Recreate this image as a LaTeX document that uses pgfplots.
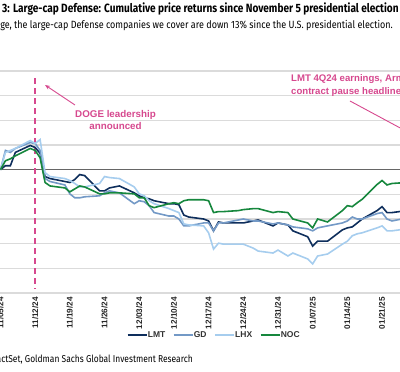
\documentclass[border=0pt]{standalone}
\usepackage{fontspec}
\setmainfont{Liberation Sans}
\newfontfamily\titlef{Fira Sans}[FakeStretch=0.84]
\newfontfamily\subf{Fira Sans}[FakeStretch=0.858]
\newfontfamily\srcf{Fira Sans}[FakeStretch=0.845]
\usepackage{pgfplots}
\usepackage{pgfplotstable}
\pgfplotsset{compat=1.18}
\usetikzlibrary{arrows.meta}
\definecolor{clmt}{RGB}{14,46,92}
\definecolor{cgd}{RGB}{115,153,198}
\definecolor{clhx}{RGB}{166,205,238}
\definecolor{cnoc}{RGB}{22,135,61}
\definecolor{cpink}{RGB}{214,72,142}

\pgfplotstableread{
x y
0 0
1 0.8
2 0.8
3 3.5
6 4.9
7 4.5
8 3.3
9 -1.4
10 -1.8
13 -2.4
14 -2.6
15 -2.0
16 -1.0
17 -1.2
20 -4.3
21 -4.3
22 -3.7
24 -3.3
27 -4.7
28 -5.3
29 -5.7
30 -5.9
31 -6.3
34 -6.9
35 -6.9
36 -7.1
37 -9.2
38 -9.6
41 -10.0
42 -10.4
43 -12.4
44 -10.6
45 -10.8
48 -10.8
49 -10.8
51 -10.4
52 -10.2
55 -11.4
56 -10.8
58 -11.2
59 -12.4
62 -13.6
63 -15.5
64 -14.5
66 -14.5
69 -12.2
70 -11.8
71 -11.6
72 -10.8
73 -10.0
76 -8.3
77 -7.5
78 -8.7
79 -8.7
82 -8.3
}\lmt

\pgfplotstableread{
x y
0 0
1 3.9
2 3.5
3 4.3
6 5.5
7 5.3
8 3.9
9 -1.8
10 -2.4
13 -3.1
14 -4.9
15 -5.7
16 -5.7
17 -5.5
20 -5.3
21 -4.7
22 -4.3
24 -4.7
27 -6.9
28 -6.3
29 -6.5
30 -7.3
31 -8.7
34 -9.4
35 -9.4
36 -10.0
37 -11.4
38 -11.4
41 -10.8
42 -10.8
43 -12.4
44 -10.8
45 -10.8
48 -10.2
49 -10.0
51 -10.4
52 -10.4
55 -11.0
56 -10.8
58 -11.2
59 -11.6
62 -12.0
63 -12.4
64 -11.8
66 -11.4
69 -10.8
70 -10.4
71 -9.6
72 -10.0
73 -10.0
76 -8.9
77 -8.7
78 -10.0
79 -10.4
82 -9.8
}\gd

\pgfplotstableread{
x y
0 0
1 3.5
2 3.9
3 4.3
6 5.9
7 5.3
8 6.1
9 -0.6
10 -1.4
13 -1.8
14 -2.2
15 -2.8
16 -3.5
17 -3.5
20 -2.8
21 -1.4
22 -1.6
24 -1.8
27 -3.5
28 -4.9
29 -5.3
30 -6.3
31 -6.9
34 -7.9
35 -8.3
36 -8.7
37 -11.0
38 -11.2
41 -11.4
42 -12.8
43 -16.1
44 -14.9
45 -15.1
48 -15.1
49 -15.1
51 -15.9
52 -16.5
55 -16.9
56 -16.3
58 -17.5
59 -16.9
62 -18.1
63 -19.1
64 -17.5
66 -17.1
69 -15.1
70 -14.5
71 -13.4
72 -13.0
73 -12.8
76 -11.8
77 -11.4
78 -12.4
79 -12.4
82 -12.0
}\lhx

\pgfplotstableread{
x y
0 0
1 1.8
2 2.2
3 2.8
6 4.3
7 3.9
8 2.4
9 -2.6
10 -3.3
13 -3.7
14 -4.5
15 -3.9
16 -3.3
17 -3.5
20 -4.9
21 -4.9
22 -4.7
24 -4.7
27 -4.9
28 -5.7
29 -5.7
30 -7.3
31 -7.7
34 -6.9
35 -6.7
36 -6.9
37 -6.3
38 -6.1
41 -6.1
42 -6.3
43 -8.7
44 -8.5
45 -8.5
48 -8.3
49 -8.1
51 -7.9
52 -7.9
55 -8.7
56 -8.5
58 -8.7
59 -10.0
62 -10.8
63 -11.8
64 -10.0
66 -10.6
69 -8.3
70 -7.3
71 -7.5
72 -6.7
73 -6.0
76 -3.0
77 -2.2
78 -3.1
79 -2.8
82 -2.6
}\noc

\begin{document}
\begin{tikzpicture}
\path[use as bounding box] (0pt,0pt) rectangle (400pt,372pt);
\clip (0pt,0pt) rectangle (400pt,372pt);
\begin{axis}[
  at={(-14.4pt,79pt)}, anchor=south west,
  scale only axis, width=436.1pt, height=222pt,
  xmin=-3, xmax=85, ymin=-25, ymax=20,
  axis line style={draw=none},
  ytick={-25,-20,...,20}, yticklabels={},
  ymajorgrids, grid style={line width=1.2pt, color=black!14},
  extra y ticks={0}, extra y tick labels={},
  extra y tick style={grid style={line width=1pt, color=black!60}},
  xtick={0,7,...,84},
  xticklabels={11/05/24,11/12/24,11/19/24,11/26/24,12/03/24,12/10/24,12/17/24,12/24/24,12/31/24,01/07/25,01/14/25,01/21/25,01/28/25},
  x tick label style={rotate=90, anchor=east, inner sep=0pt, font=\fontsize{8.2}{9}\selectfont\bfseries, text=black!85},
  xticklabel shift=4pt,
  major tick length=0pt,
  legend columns=4,
  legend style={draw=none, fill=none, at={(0.5225,-0.189)}, anchor=center,
    inner sep=0pt, column sep=0pt,
    font=\fontsize{8.5}{10}\selectfont\bfseries, text=black!80,
    nodes={inner xsep=0.5pt, inner ysep=1pt},
    /tikz/every even column/.append style={column sep=7pt}},
  legend image code/.code={\draw[#1] (0pt,0pt) -- (19pt,0pt);},
]
\addplot[cpink, line width=1.6pt, dash pattern=on 6pt off 4pt, forget plot] coordinates {(7,18.5) (7,-24.2)};
\addplot[clmt, line width=1.6pt] table {\lmt};
\addplot[cgd, line width=1.6pt] table {\gd};
\addplot[clhx, line width=1.6pt] table {\lhx};
\addplot[cnoc, line width=1.6pt] table {\noc};
\legend{LMT,GD,LHX,NOC}
\end{axis}
\node[anchor=west, inner sep=0pt] at (2pt,363pt) {\titlef\fontsize{12}{14}\selectfont\bfseries 3: Large-cap Defense: Cumulative price returns since November 5 presidential election};
\node[anchor=east, inner sep=0pt] at (393pt,346pt) {\subf\fontsize{10.5}{12}\selectfont On average, the large-cap Defense companies we cover are down 13\% since the U.S. presidential election.};
\node[text=cpink, align=center, inner sep=0pt, font=\fontsize{9.8}{12}\selectfont\bfseries] at (115.5pt,252pt) {DOGE leadership\\announced};
\node[text=cpink, align=left, anchor=west, inner sep=0pt, font=\fontsize{9.6}{13}\selectfont\bfseries] at (291pt,286.5pt) {LMT 4Q24 earnings, Army\\contract pause headlines};
\draw[cpink, line width=0.9pt, -{Stealth[length=5pt,width=4pt]}] (75pt,267pt) -- (45pt,287pt);
\draw[cpink, line width=0.9pt] (350pt,271pt) -- (430pt,228pt);
\node[anchor=east, inner sep=0pt] at (193pt,12pt) {\srcf\fontsize{10}{12}\selectfont Source: FactSet, Goldman Sachs Global Investment Research};
\end{tikzpicture}
\end{document}
